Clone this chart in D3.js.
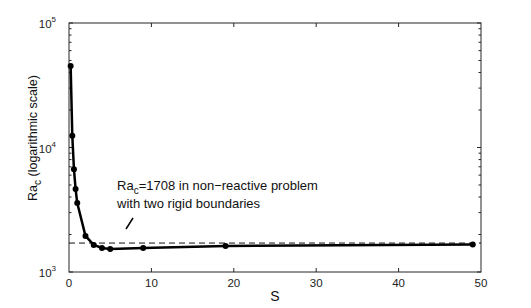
<!DOCTYPE html>
<html>
<head>
<meta charset="utf-8">
<script src="https://cdn.jsdelivr.net/npm/d3@7"></script>
<style>
  body { margin: 0; background: #fff; }
  svg { display: block; font-family: "Liberation Sans", Arial, sans-serif; }
</style>
</head>
<body>
<div id="viz"></div>
<script>
// values
const sValues = [0.2, 0.4, 0.6, 0.8, 1, 2, 3, 4, 5, 9, 19, 49];
const raValues = [45200, 12400, 6700, 4650, 3580, 1950, 1650, 1560, 1530, 1560, 1620, 1660];
const xTicks = [0, 10, 20, 30, 40, 50];
const yDecades = [3, 4, 5];
const refValue = 1708;

const width = 531;
const height = 308;
const margin = { top: 23, right: 50, bottom: 36, left: 69 };
const axisColor = "#262626";

const svg = d3.select("#viz")
    .append("svg")
    .attr("width", width)
    .attr("height", height);

const x = d3.scaleLinear()
    .domain([0, 50])
    .range([margin.left, width - margin.right]);

const y = d3.scaleLog()
    .domain([1e3, 1e5])
    .range([height - margin.bottom, margin.top]);

//minor ticks for the log axis
const minorTicks = [];
yDecades.slice(0, -1).forEach(d => {
    for (let k = 2; k <= 9; k++) minorTicks.push(k * Math.pow(10, d));
});

// box
svg.append("rect")
    .attr("x", x(0))
    .attr("y", y(1e5))
    .attr("width", x(50) - x(0))
    .attr("height", y(1e3) - y(1e5))
    .attr("fill", "none")
    .attr("stroke", axisColor)
    .attr("stroke-width", 1);

const tickG = svg.append("g")
    .attr("stroke", axisColor)
    .attr("stroke-width", 1);

// x ticks (inward, top and bottom)
xTicks.slice(1, -1).forEach(t => {
    tickG.append("line")
        .attr("x1", x(t)).attr("x2", x(t))
        .attr("y1", y(1e3)).attr("y2", y(1e3) - 4);
    tickG.append("line")
        .attr("x1", x(t)).attr("x2", x(t))
        .attr("y1", y(1e5)).attr("y2", y(1e5) + 4);
});

// y ticks (inward, left and right)
const yTickList = yDecades.map(d => ({ v: Math.pow(10, d), len: 4 }))
    .concat(minorTicks.map(v => ({ v, len: 2.5 })));
yTickList.forEach(t => {
    tickG.append("line")
        .attr("x1", x(0)).attr("x2", x(0) + t.len)
        .attr("y1", y(t.v)).attr("y2", y(t.v));
    tickG.append("line")
        .attr("x1", x(50)).attr("x2", x(50) - t.len)
        .attr("y1", y(t.v)).attr("y2", y(t.v));
});

// x tick labels
svg.append("g")
    .selectAll("text")
    .data(xTicks)
    .join("text")
    .attr("x", d => x(d))
    .attr("y", y(1e3) + 15)
    .attr("text-anchor", "middle")
    .attr("font-size", 11.5)
    .attr("fill", "#222")
    .text(d => d);

// y tick labels 10^n
const yLab = svg.append("g")
    .selectAll("text")
    .data(yDecades)
    .join("text")
    .attr("x", x(0) - 13)
    .attr("y", d => y(Math.pow(10, d)) + 5)
    .attr("text-anchor", "end")
    .attr("font-size", 11.5)
    .attr("fill", "#222")
    .text("10");
yLab.append("tspan")
    .attr("dy", -6)
    .attr("font-size", 8)
    .text(d => d);

// axis titles
svg.append("text")
    .attr("x", (x(0) + x(50)) / 2)
    .attr("y", 301)
    .attr("text-anchor", "middle")
    .attr("font-size", 14)
    .attr("fill", "#111")
    .text("S");

const yTitle = svg.append("text")
    .attr("transform", `translate(37,138) rotate(-90)`)
    .attr("text-anchor", "middle")
    .attr("font-size", 12.5)
    .attr("fill", "#111");
yTitle.append("tspan").text("Ra");
yTitle.append("tspan").attr("dy", 4).attr("font-size", 10).text("c");
yTitle.append("tspan").attr("dy", -4).text(" (logarithmic scale)");

// reference line
svg.append("line")
    .attr("x1", x(0)).attr("x2", x(50))
    .attr("y1", y(refValue)).attr("y2", y(refValue))
    .attr("stroke", "#111")
    .attr("stroke-width", 1)
    .attr("stroke-dasharray", "6,4");

// data line
const pts = sValues.map((s, i) => [s, raValues[i]]);
const line = d3.line()
    .x(d => x(d[0]))
    .y(d => y(d[1]));

svg.append("path")
    .datum(pts)
    .attr("fill", "none")
    .attr("stroke", "#000")
    .attr("stroke-width", 2.5)
    .attr("stroke-linejoin", "round")
    .attr("d", line);

svg.append("g")
    .selectAll("circle")
    .data(pts)
    .join("circle")
    .attr("cx", d => x(d[0]))
    .attr("cy", d => y(d[1]))
    .attr("r", 3)
    .attr("fill", "#000");

// annotation
const ann = svg.append("g")
    .attr("font-size", 13)
    .attr("fill", "#111");
const a1 = ann.append("text")
    .attr("x", 117)
    .attr("y", 190);
a1.append("tspan").text("Ra");
a1.append("tspan").attr("dy", 4).attr("font-size", 10).text("c");
a1.append("tspan").attr("dy", -4).text("=1708 in non\u2212reactive problem");
ann.append("text")
    .attr("x", 117)
    .attr("y", 208)
    .text("with two rigid boundaries");

svg.append("line")
    .attr("x1", 126).attr("y1", 229)
    .attr("x2", 133).attr("y2", 218)
    .attr("stroke", "#000")
    .attr("stroke-width", 1.5);
</script>
</body>
</html>
